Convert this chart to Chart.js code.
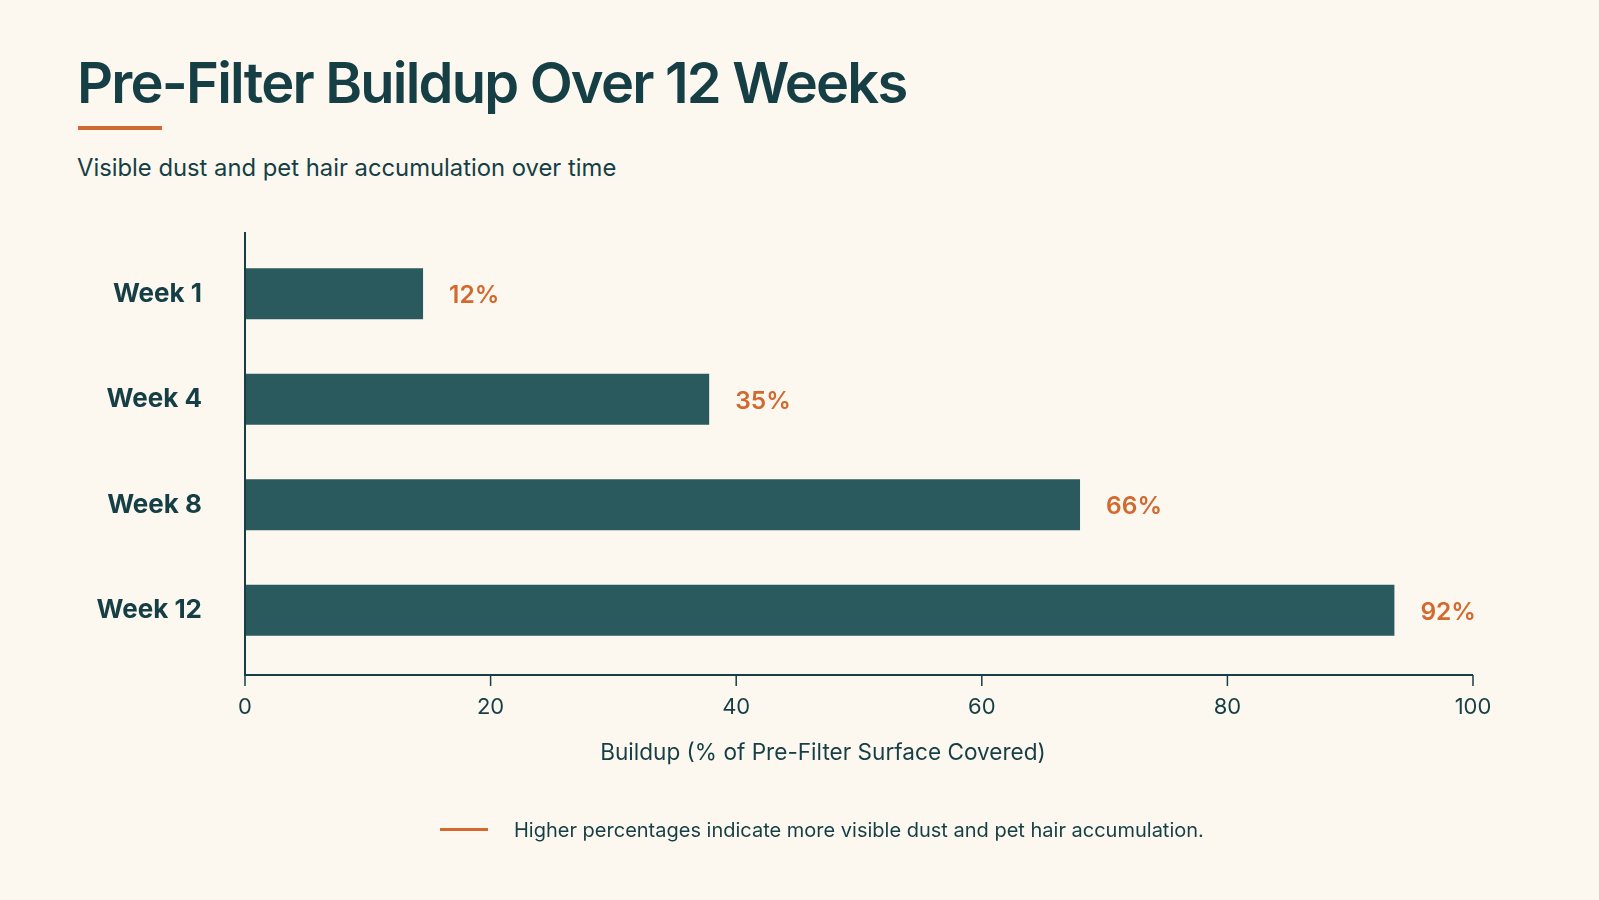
<!DOCTYPE html>
<html>
<head>
<meta charset="utf-8">
<script src="https://cdn.jsdelivr.net/npm/chart.js@4.4.1/dist/chart.umd.min.js"></script>
<style>
  html, body { margin: 0; padding: 0; background: #fcf8f0; }
  body { width: 1599px; height: 900px; position: relative; overflow: hidden; font-family: Inter, "Noto Sans", sans-serif; color: #163f45; }
  #wrap { position: absolute; left: 0; top: 0; width: 1599px; height: 900px; }
  .title { position: absolute; left: 77px; top: 49px; font-size: 56px; font-weight: 600; letter-spacing: -1.8px; white-space: nowrap; }
  .accent { position: absolute; left: 78px; top: 126px; width: 84px; height: 4px; background: #d2692e; }
  .subtitle { position: absolute; left: 77px; top: 153px; font-size: 23.8px; white-space: nowrap; }
  .axis-title { position: absolute; left: 823px; top: 738px; transform: translateX(-50%); font-size: 22.6px; white-space: nowrap; }
  .note { position: absolute; left: 440px; top: 818px; font-size: 20px; white-space: nowrap; }
  .note span { display: inline-block; width: 48px; height: 3px; background: #d2692e; vertical-align: middle; margin-right: 26px; position: relative; top: -2px; }
</style>
</head>
<body>
<div class="title">Pre-Filter Buildup Over 12 Weeks</div>
<div class="accent"></div>
<div class="subtitle">Visible dust and pet hair accumulation over time</div>
<div id="wrap"><canvas id="buildupChart" width="1599" height="900"></canvas></div>
<div class="axis-title">Buildup (% of Pre-Filter Surface Covered)</div>
<div class="note"><span></span>Higher percentages indicate more visible dust and pet hair accumulation.</div>

<script>
// values
const weeks = ['Week 1', 'Week 4', 'Week 8', 'Week 12'];
const buildup = [14.5, 37.8, 68, 93.6];
const buildupLabels = ['12%', '35%', '66%', '92%'];
const xTicks = [0, 20, 40, 60, 80, 100];

const dark = '#163f45';
const barColor = '#2b5a5e';
const orange = '#d2692e';

// axis lines, tick marks and value labels
const axisPlugin = {
  id: 'axisPlugin',
  afterDatasetsDraw(chart) {
    const ctx = chart.ctx;
    const area = chart.chartArea;
    const xs = chart.scales.x;
    const axisY = area.bottom + 12;
    ctx.save();
    ctx.strokeStyle = dark;
    ctx.lineWidth = 2;
    ctx.beginPath();
    ctx.moveTo(area.left, area.top - 9);
    ctx.lineTo(area.left, axisY);
    ctx.lineTo(area.right, axisY);
    ctx.stroke();
    ctx.lineWidth = 1.5;
    xTicks.forEach(v => {
      const px = xs.getPixelForValue(v);
      ctx.beginPath();
      ctx.moveTo(px, axisY);
      ctx.lineTo(px, axisY + 11);
      ctx.stroke();
    });

    ctx.fillStyle = orange;
    ctx.font = '600 24.5px Inter, "Noto Sans", sans-serif';
    ctx.textBaseline = 'middle';
    ctx.textAlign = 'left';
    const meta = chart.getDatasetMeta(0);
    meta.data.forEach((bar, i) => {
      ctx.fillText(buildupLabels[i], bar.x + 26, bar.y + 2);
    });
    ctx.restore();
  }
};

const ctx = document.getElementById('buildupChart').getContext('2d');
new Chart(ctx, {
  type: 'bar',
  data: {
    labels: weeks,
    datasets: [{
      data: buildup,
      backgroundColor: barColor,
      borderWidth: 0,
      barPercentage: 0.97,
      categoryPercentage: 0.5
    }]
  },
  plugins: [axisPlugin],
  options: {
    indexAxis: 'y',
    responsive: false,
    animation: false,
    layout: {
      padding: { left: 0, top: 241, right: 126, bottom: 177 }
    },
    plugins: {
      legend: { display: false },
      tooltip: { enabled: false }
    },
    scales: {
      x: {
        min: 0,
        max: 100,
        afterBuildTicks: (scale) => { scale.ticks = xTicks.map(v => ({ value: v })); },
        afterFit: (scale) => { scale.height = 60; },
        grid: { display: false },
        border: { display: false },
        ticks: {
          padding: 23,
          color: dark,
          font: { family: 'Inter', size: 22 }
        }
      },
      y: {
        afterFit: (scale) => { scale.width = 245; },
        grid: { display: false },
        border: { display: false },
        ticks: {
          padding: 35,
          color: dark,
          font: { family: 'Inter', size: 26, weight: '700' }
        }
      }
    }
  }
});
</script>
</body>
</html>
